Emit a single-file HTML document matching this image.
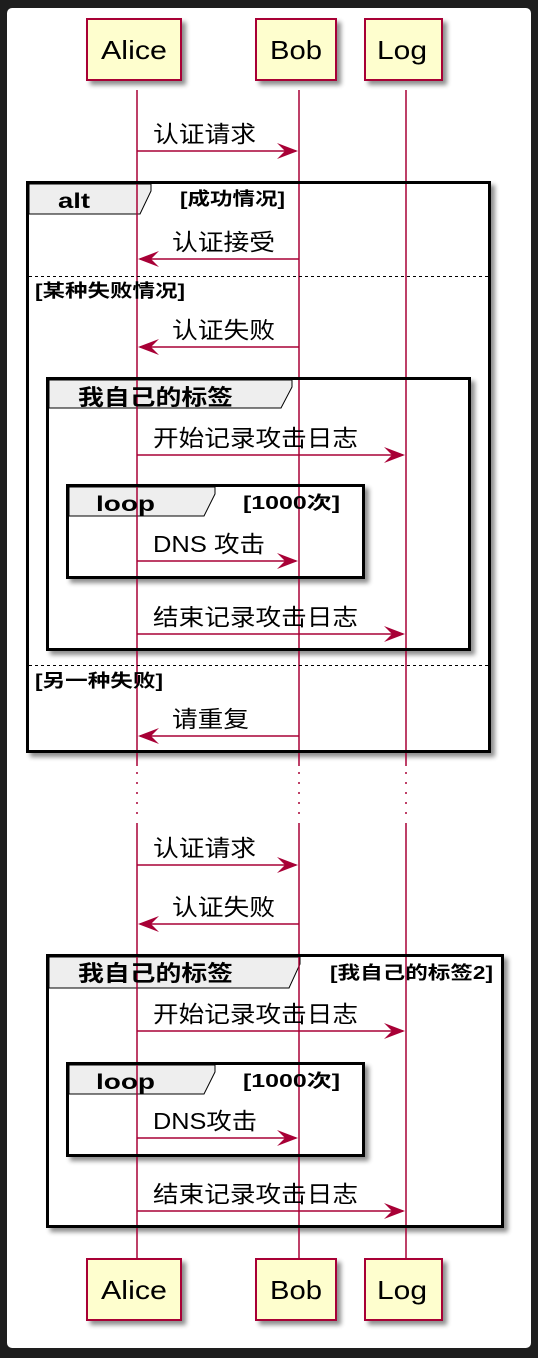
<!DOCTYPE html>
<html><head><meta charset="utf-8"><style>
html,body{margin:0;padding:0;background:#1e1e1e;}
svg{display:block;}
text{font-family:"Liberation Sans","Noto Sans CJK SC",sans-serif;}
</style></head><body>
<svg width="538" height="1358" viewBox="0 0 538 1358" xmlns="http://www.w3.org/2000/svg">
<defs>
<filter id="sh" x="-10%" y="-10%" width="130%" height="130%"><feGaussianBlur in="SourceAlpha" stdDeviation="2.5"/><feOffset dx="4" dy="4"/><feComponentTransfer><feFuncA type="linear" slope="0.45"/></feComponentTransfer><feMerge><feMergeNode/><feMergeNode in="SourceGraphic"/></feMerge></filter>
</defs>
<rect x="7" y="8" width="524" height="1340" rx="5" fill="#fff"/>

<g filter="url(#sh)"><rect x="27.5" y="182.5" width="462" height="569" fill="#fff" stroke="#000" stroke-width="3"/></g>
<g filter="url(#sh)"><rect x="47.5" y="378.5" width="422" height="271" fill="#fff" stroke="#000" stroke-width="3"/></g>
<g filter="url(#sh)"><rect x="67.5" y="485.5" width="296" height="92" fill="#fff" stroke="#000" stroke-width="3"/></g>
<g filter="url(#sh)"><rect x="47.5" y="955.5" width="455" height="271" fill="#fff" stroke="#000" stroke-width="3"/></g>
<g filter="url(#sh)"><rect x="67.5" y="1063.5" width="296" height="92" fill="#fff" stroke="#000" stroke-width="3"/></g>

<g fill="#eeeeee" stroke="#000" stroke-width="1">
<polygon points="29,184 151,184 151,191 140,214 29,214"/>
<polygon points="49,380 292,380 292,387 281,408 49,408"/>
<polygon points="69,487 215,487 215,494 204,516 69,516"/>
<polygon points="49,957 300,957 300,964 289,988 49,988"/>
<polygon points="69,1065 215,1065 215,1072 204,1094 69,1094"/>
</g>

<g stroke="#A80036" stroke-width="1.5">
<line x1="137" y1="90" x2="137" y2="766"/><line x1="137" y1="823" x2="137" y2="1258"/>
<line x1="299" y1="90" x2="299" y2="766"/><line x1="299" y1="823" x2="299" y2="1258"/>
<line x1="406" y1="90" x2="406" y2="766"/><line x1="406" y1="823" x2="406" y2="1258"/>
<line x1="137" y1="772" x2="137" y2="820" stroke-dasharray="2,8"/>
<line x1="299" y1="772" x2="299" y2="820" stroke-dasharray="2,8"/>
<line x1="406" y1="772" x2="406" y2="820" stroke-dasharray="2,8"/>
</g>

<g fill="none" stroke="#000" stroke-width="3">
<rect x="27.5" y="182.5" width="462" height="569"/>
<rect x="47.5" y="378.5" width="422" height="271"/>
<rect x="67.5" y="485.5" width="296" height="92"/>
<rect x="47.5" y="955.5" width="455" height="271"/>
<rect x="67.5" y="1063.5" width="296" height="92"/>
</g>
<g stroke="#000" stroke-width="1" stroke-dasharray="3,3">
<line x1="29" y1="276.5" x2="488" y2="276.5"/>
<line x1="29" y1="665.5" x2="488" y2="665.5"/>
</g>

<g font-weight="bold" fill="#000" lengthAdjust="spacingAndGlyphs">
<text x="58" y="208" font-size="21" textLength="32" lengthAdjust="spacingAndGlyphs">alt</text>
<text x="180" y="205" font-size="18" textLength="105" lengthAdjust="spacingAndGlyphs">[成功情况]</text>
<text x="35" y="297" font-size="18" textLength="150" lengthAdjust="spacingAndGlyphs">[某种失败情况]</text>
<text x="78" y="405" font-size="22" textLength="155" lengthAdjust="spacingAndGlyphs">我自己的标签</text>
<text x="96" y="511" font-size="21" textLength="59" lengthAdjust="spacingAndGlyphs">loop</text>
<text x="243" y="509" font-size="18" textLength="97" lengthAdjust="spacingAndGlyphs">[1000次]</text>
<text x="35" y="687" font-size="18" textLength="128" lengthAdjust="spacingAndGlyphs">[另一种失败]</text>
<text x="78" y="981" font-size="22" textLength="155" lengthAdjust="spacingAndGlyphs">我自己的标签</text>
<text x="330" y="979" font-size="18" textLength="163" lengthAdjust="spacingAndGlyphs">[我自己的标签2]</text>
<text x="96" y="1089" font-size="21" textLength="59" lengthAdjust="spacingAndGlyphs">loop</text>
<text x="243" y="1087" font-size="18" textLength="97" lengthAdjust="spacingAndGlyphs">[1000次]</text>
</g>

<g stroke="#A80036" stroke-width="1.5">
<line x1="137" y1="151" x2="296" y2="151"/>
<line x1="140" y1="259" x2="299" y2="259"/>
<line x1="140" y1="347" x2="299" y2="347"/>
<line x1="137" y1="455" x2="403" y2="455"/>
<line x1="137" y1="561" x2="296" y2="561"/>
<line x1="137" y1="634" x2="403" y2="634"/>
<line x1="140" y1="736" x2="299" y2="736"/>
<line x1="137" y1="865" x2="296" y2="865"/>
<line x1="140" y1="924" x2="299" y2="924"/>
<line x1="137" y1="1031" x2="403" y2="1031"/>
<line x1="137" y1="1138" x2="296" y2="1138"/>
<line x1="137" y1="1211" x2="403" y2="1211"/>
</g>
<g fill="#A80036">
<polygon points="277,143 298,151 277,159 285,151"/>
<polygon points="159,251 138,259 159,267 151,259"/>
<polygon points="159,339 138,347 159,355 151,347"/>
<polygon points="384,447 405,455 384,463 392,455"/>
<polygon points="277,553 298,561 277,569 285,561"/>
<polygon points="384,626 405,634 384,642 392,634"/>
<polygon points="159,728 138,736 159,744 151,736"/>
<polygon points="277,857 298,865 277,873 285,865"/>
<polygon points="159,916 138,924 159,932 151,924"/>
<polygon points="384,1023 405,1031 384,1039 392,1031"/>
<polygon points="277,1130 298,1138 277,1146 285,1138"/>
<polygon points="384,1203 405,1211 384,1219 392,1211"/>
</g>
<g fill="#000" font-size="23">
<text x="153" y="142" textLength="103" lengthAdjust="spacingAndGlyphs">认证请求</text>
<text x="172" y="250" textLength="103" lengthAdjust="spacingAndGlyphs">认证接受</text>
<text x="172" y="338" textLength="103" lengthAdjust="spacingAndGlyphs">认证失败</text>
<text x="153" y="446" textLength="205" lengthAdjust="spacingAndGlyphs">开始记录攻击日志</text>
<text x="153" y="552" textLength="112" lengthAdjust="spacingAndGlyphs">DNS 攻击</text>
<text x="153" y="625" textLength="205" lengthAdjust="spacingAndGlyphs">结束记录攻击日志</text>
<text x="172" y="727" textLength="77" lengthAdjust="spacingAndGlyphs">请重复</text>
<text x="153" y="856" textLength="103" lengthAdjust="spacingAndGlyphs">认证请求</text>
<text x="172" y="915" textLength="103" lengthAdjust="spacingAndGlyphs">认证失败</text>
<text x="153" y="1022" textLength="205" lengthAdjust="spacingAndGlyphs">开始记录攻击日志</text>
<text x="153" y="1129" textLength="104" lengthAdjust="spacingAndGlyphs">DNS攻击</text>
<text x="153" y="1202" textLength="205" lengthAdjust="spacingAndGlyphs">结束记录攻击日志</text>
</g>

<g filter="url(#sh)" fill="#FEFECE" stroke="#A80036" stroke-width="2">
<rect x="87" y="19" width="94" height="61"/>
<rect x="256" y="19" width="80" height="61"/>
<rect x="365" y="19" width="77" height="61"/>
<rect x="87" y="1259" width="94" height="61"/>
<rect x="256" y="1259" width="80" height="61"/>
<rect x="365" y="1259" width="77" height="61"/>
</g>
<g fill="#000" font-size="26">
<text x="101" y="59" textLength="66" lengthAdjust="spacingAndGlyphs">Alice</text>
<text x="270" y="59" textLength="52" lengthAdjust="spacingAndGlyphs">Bob</text>
<text x="377" y="59" textLength="50" lengthAdjust="spacingAndGlyphs">Log</text>
<text x="101" y="1299" textLength="66" lengthAdjust="spacingAndGlyphs">Alice</text>
<text x="270" y="1299" textLength="52" lengthAdjust="spacingAndGlyphs">Bob</text>
<text x="377" y="1299" textLength="50" lengthAdjust="spacingAndGlyphs">Log</text>
</g>
</svg>
</body></html>
